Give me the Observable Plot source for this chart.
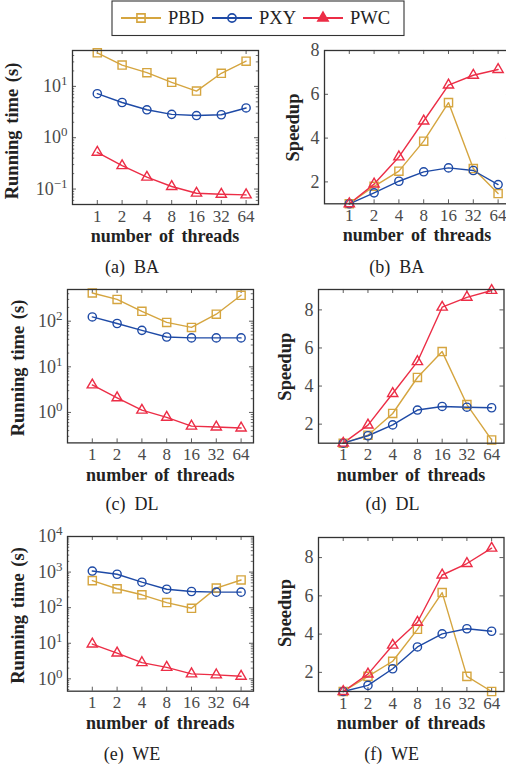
<!DOCTYPE html>
<html><head><meta charset="utf-8">
<script src="https://cdn.jsdelivr.net/npm/d3@7"></script>
<script src="https://cdn.jsdelivr.net/npm/@observablehq/plot@0.6"></script>
<style>
html,body{margin:0;padding:0;background:#fff;overflow:hidden}
#root{position:relative;width:506px;height:768px;font-family:"Liberation Serif","Times New Roman",serif}
#root > svg{position:absolute;overflow:visible}
</style></head><body><div id="root"></div>
<script>
// ---------- data ----------
const threads = [1, 2, 4, 8, 16, 32, 64];
const methods = ["PBD", "PXY", "PWC"];
const methodColors = ["#d5a53f", "#1e4aa6", "#ec2d46"];
const methodSymbols = ["square", "circle", "triangle"];

// (a) BA running time (s)
const baTimePBD = [45, 26, 18.5, 12, 8.1, 18, 31];
const baTimePXY = [7.2, 4.85, 3.5, 2.85, 2.7, 2.8, 3.8];
const baTimePWC = [0.52, 0.285, 0.17, 0.112, 0.083, 0.079, 0.077];
// (b) BA speedup
const baSpeedPBD = [1, 1.8, 2.49, 3.86, 5.62, 2.61, 1.47];
const baSpeedPXY = [1, 1.5, 2.03, 2.46, 2.64, 2.52, 1.88];
const baSpeedPWC = [1, 1.9, 3.14, 4.78, 6.42, 6.87, 7.13];
// (c) DL running time (s)
const dlTimePBD = [415, 300, 165, 94, 73, 142, 370];
const dlTimePXY = [124, 89, 63, 45, 43, 43, 43];
const dlTimePWC = [4.0, 2.09, 1.12, 0.78, 0.50, 0.48, 0.455];
// (d) DL speedup
const dlSpeedPBD = [1, 1.42, 2.56, 4.45, 5.81, 3.03, 1.17];
const dlSpeedPXY = [1, 1.39, 1.96, 2.74, 2.93, 2.89, 2.86];
const dlSpeedPWC = [1, 1.95, 3.61, 5.28, 8.14, 8.66, 9.02];
// (e) WE running time (s)
const weTimePBD = [575, 340, 230, 139, 96, 355, 600];
const weTimePXY = [1070, 870, 520, 330, 285, 273, 273];
const weTimePWC = [9.5, 5.3, 2.85, 2.1, 1.38, 1.29, 1.18];
// (f) WE speedup
const weSpeedPBD = [1, 1.79, 2.58, 4.25, 6.17, 1.79, 1.0];
const weSpeedPXY = [1, 1.32, 2.19, 3.33, 4.01, 4.28, 4.15];
const weSpeedPWC = [1, 1.91, 3.42, 4.62, 7.09, 7.69, 8.49];

const xLabel = "number of threads";
const timeLabel = "Running time (s)";
const speedLabel = "Speedup";
const speedTicks = [2, 4, 6, 8];

// ---------- layout ----------
const panels = [
  {cap: "(a)  BA", kind: "time", series: [baTimePBD, baTimePXY, baTimePWC], dom: [0.05, 50],
   fx: 72, fy: 50, fw: 186, fh: 154, ylx: 18, yly: 131, xly: 241.5, capx: 132, capy: 273},
  {cap: "(b)  BA", kind: "speed", series: [baSpeedPBD, baSpeedPXY, baSpeedPWC], dom: [1, 8],
   fx: 324, fy: 50, fw: 186, fh: 153.3, ylx: 299, yly: 127.5, xly: 241, capx: 396.7, capy: 273},
  {cap: "(c)  DL", kind: "time", series: [dlTimePBD, dlTimePXY, dlTimePWC], dom: [0.215, 495],
   fx: 67.3, fy: 289.3, fw: 186, fh: 153.4, ylx: 24, yly: 368, xly: 480.5, capx: 132, capy: 510},
  {cap: "(d)  DL", kind: "speed", series: [dlSpeedPBD, dlSpeedPXY, dlSpeedPWC], dom: [1, 9.07],
   fx: 318.3, fy: 289, fw: 185.5, fh: 153.7, ylx: 291, yly: 366.7, xly: 481, capx: 392.5, capy: 510},
  {cap: "(e)  WE", kind: "time", series: [weTimePBD, weTimePXY, weTimePWC], dom: [0.45, 10000],
   fx: 67.3, fy: 536, fw: 186, fh: 154.7, ylx: 24, yly: 615.5, xly: 728.5, capx: 132, capy: 760},
  {cap: "(f)  WE", kind: "speed", series: [weSpeedPBD, weSpeedPXY, weSpeedPWC], dom: [1, 9.05],
   fx: 318.3, fy: 536.7, fw: 185.5, fh: 154, ylx: 291, yly: 613, xly: 728.5, capx: 391.7, capy: 760}
];

const root = document.getElementById("root");
const FONT = '"Liberation Serif","Times New Roman",serif';
const INK = "#333";
const dotR = {square: 4.6, circle: 4.1, triangle: 3.8};

function supFormat(d) {
  const e = Math.round(Math.log10(d));
  return "10^" + e;
}

for (const p of panels) {
  const ML = 64, MR = 8, MT = 8, MB = 34;
  const W = p.fw + ML + MR, H = p.fh + MT + MB;
  const isLog = p.kind === "time";
  const [lo, hi] = p.dom;
  let major, minor = [];
  if (isLog) {
    major = d3.range(Math.floor(Math.log10(lo)), Math.ceil(Math.log10(hi)) + 1)
      .map(e => Math.pow(10, e)).filter(v => v >= lo * 0.999 && v <= hi * 1.001);
    for (let e = Math.floor(Math.log10(lo)); e <= Math.ceil(Math.log10(hi)); e++)
      for (let m = 2; m <= 9; m++) {
        const v = m * Math.pow(10, e);
        if (v > lo && v < hi) minor.push(v);
      }
  } else {
    major = speedTicks.filter(v => v >= lo && v <= hi);
  }
  const rows = [];
  p.series.forEach((arr, si) => arr.forEach((v, i) => rows.push({threads: threads[i], value: v, method: methods[si]})));

  const marks = [
    Plot.axisX({ticks: threads, tickSize: 0, tickPadding: 5, tickFormat: d => String(d), label: null, fontSize: 17}),
    Plot.axisY({ticks: major, tickSize: 0, tickPadding: 5, tickFormat: isLog ? supFormat : (d => String(d)), label: null}),
    Plot.tickX(threads, {x: d => d, insetTop: p.fh - 4, stroke: INK, strokeWidth: 0.8}),
    Plot.tickX(threads, {x: d => d, insetBottom: p.fh - 4, stroke: INK, strokeWidth: 0.8}),
    Plot.tickY(major, {y: d => d, insetRight: p.fw - 4, stroke: INK, strokeWidth: 0.8}),
    Plot.tickY(major, {y: d => d, insetLeft: p.fw - 4, stroke: INK, strokeWidth: 0.8}),
    Plot.tickY(minor, {y: d => d, insetRight: p.fw - 2.2, stroke: INK, strokeWidth: 0.7}),
    Plot.tickY(minor, {y: d => d, insetLeft: p.fw - 2.2, stroke: INK, strokeWidth: 0.7})
  ];
  methods.forEach((m, si) => {
    const sub = rows.filter(r => r.method === m);
    marks.push(Plot.line(sub, {x: "threads", y: "value", stroke: methodColors[si], strokeWidth: 1.4}));
  });
  methods.forEach((m, si) => {
    const sub = rows.filter(r => r.method === m);
    marks.push(Plot.dot(sub, {x: "threads", y: "value", symbol: methodSymbols[si], stroke: methodColors[si],
      fill: "none", strokeWidth: 1.4, r: dotR[methodSymbols[si]]}));
  });
  marks.push(Plot.frame({stroke: INK, strokeWidth: 1.3}));

  const svg = Plot.plot({
    width: W, height: H, marginLeft: ML, marginRight: MR, marginTop: MT, marginBottom: MB,
    style: {fontFamily: FONT, fontSize: "18px", color: "#4a4a4a", background: "transparent", overflow: "visible"},
    x: {type: "log", base: 2, domain: [0.5, 90.51]},
    y: {type: isLog ? "log" : "linear", domain: p.dom},
    marks
  });
  svg.style.left = (p.fx - ML) + "px";
  svg.style.top = (p.fy - MT) + "px";
  root.appendChild(svg);

  // superscript exponents on log tick labels
  svg.querySelectorAll("text").forEach(t => {
    const m = /^10\^(-?\d+)$/.exec(t.textContent);
    if (!m) return;
    t.textContent = "";
    const base = document.createElementNS("http://www.w3.org/2000/svg", "tspan");
    base.textContent = "10";
    const ex = document.createElementNS("http://www.w3.org/2000/svg", "tspan");
    ex.textContent = m[1].replace("-", "\u2212");
    ex.setAttribute("font-size", "13px");
    ex.setAttribute("dy", "-7");
    t.appendChild(base); t.appendChild(ex);
  });
}

// ---------- overlay: titles, captions, legend ----------
const ov = d3.select(root).append("svg")
  .attr("width", 506).attr("height", 768)
  .style("left", "0px").style("top", "0px")
  .attr("font-family", FONT);

for (const p of panels) {
  ov.append("text").attr("x", p.fx + p.fw / 2).attr("y", p.xly)
    .attr("text-anchor", "middle").attr("font-size", 18).attr("font-weight", "bold")
    .attr("fill", "#222").attr("word-spacing", "3px").text(xLabel);
  ov.append("text").attr("transform", `translate(${p.ylx},${p.yly}) rotate(-90)`)
    .attr("text-anchor", "middle").attr("font-size", 18.5).attr("font-weight", "bold")
    .attr("fill", "#222").attr("word-spacing", "2px").text(p.kind === "time" ? timeLabel : speedLabel);
  ov.append("text").attr("x", p.capx).attr("y", p.capy)
    .attr("text-anchor", "middle").attr("font-size", 18).attr("fill", "#222")
    .attr("xml:space", "preserve").style("white-space", "pre").text(p.cap);
}

// legend
ov.append("rect").attr("x", 112).attr("y", 1).attr("width", 292).attr("height", 34.5)
  .attr("fill", "white").attr("stroke", "#333").attr("stroke-width", 1.1);
const legX = [121, 212, 303];
const symMap = {square: d3.symbolSquare, circle: d3.symbolCircle, triangle: d3.symbolTriangle};
methods.forEach((m, i) => {
  const x0 = legX[i], cy = 18;
  ov.append("line").attr("x1", x0).attr("x2", x0 + 40).attr("y1", cy).attr("y2", cy)
    .attr("stroke", methodColors[i]).attr("stroke-width", 2.2);
  const r = dotR[methodSymbols[i]];
  ov.append("path").attr("transform", `translate(${x0 + 20},${cy})`)
    .attr("d", d3.symbol(symMap[methodSymbols[i]], r * r * Math.PI)())
    .attr("fill", methodSymbols[i] === "triangle" ? methodColors[i] : "none")
    .attr("stroke", methodColors[i]).attr("stroke-width", 1.6);
  ov.append("text").attr("x", x0 + 47).attr("y", 24.3).attr("font-size", 18.5)
    .attr("fill", "#222").text(m);
});
</script>
</body></html>
